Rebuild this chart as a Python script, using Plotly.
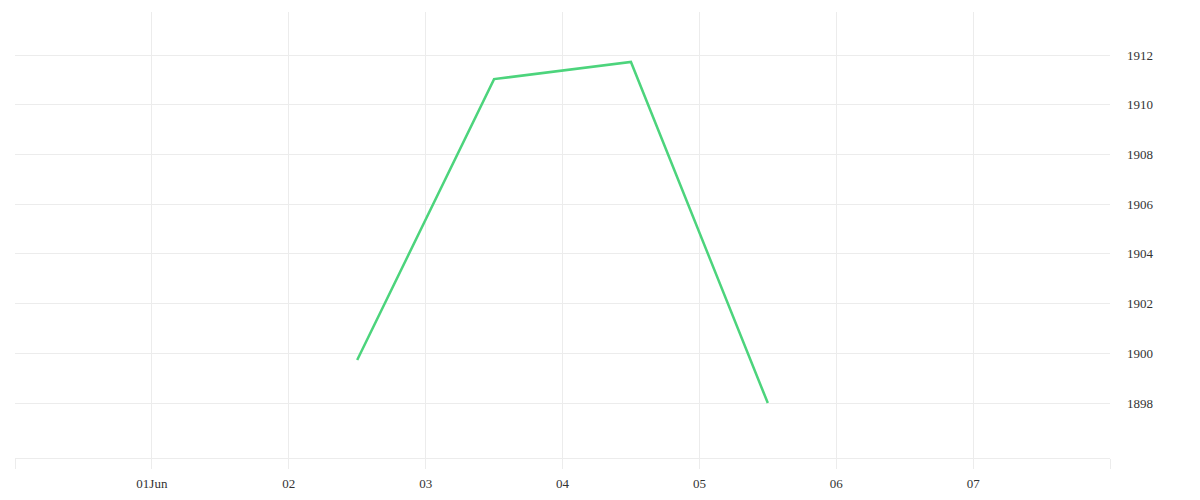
import plotly.graph_objects as go

dates = ["2024-06-02 12:00", "2024-06-03 12:00", "2024-06-04 12:00", "2024-06-05 12:00"]
values = [1899.73, 1911.03, 1911.72, 1898.0]

tick_dates = ["2024-05-31", "2024-06-01", "2024-06-02", "2024-06-03", "2024-06-04",
              "2024-06-05", "2024-06-06", "2024-06-07", "2024-06-08"]
tick_labels = ["", "01Jun", "02", "03", "04", "05", "06", "07", ""]
y_ticks = [1898, 1900, 1902, 1904, 1906, 1908, 1910, 1912]

fig = go.Figure()
fig.add_trace(go.Scatter(x=dates, y=values, mode="lines",
                         line=dict(color="#4cd47c", width=2.5)))

font = dict(family="Liberation Serif, serif", size=13, color="#333")
fig.update_layout(
    width=1200, height=500,
    margin=dict(l=7, r=98, t=4, b=50),
    plot_bgcolor="white", paper_bgcolor="white",
    showlegend=False, font=font,
)
fig.update_xaxes(range=["2024-05-31", "2024-06-08"], tickvals=tick_dates, ticktext=tick_labels,
                 showgrid=True, gridcolor="#ececec", gridwidth=1,
                 ticks="outside", ticklen=10, tickcolor="#ececec", ticklabelstandoff=3,
                 showline=True, linecolor="#ececec", zeroline=False)
fig.update_yaxes(range=[1895.79, 1913.73], tickvals=y_ticks, side="right",
                 showgrid=True, gridcolor="#ececec", gridwidth=1,
                 ticks="", ticklabelstandoff=16, zeroline=False, showline=False)
fig.write_html("out.html")
